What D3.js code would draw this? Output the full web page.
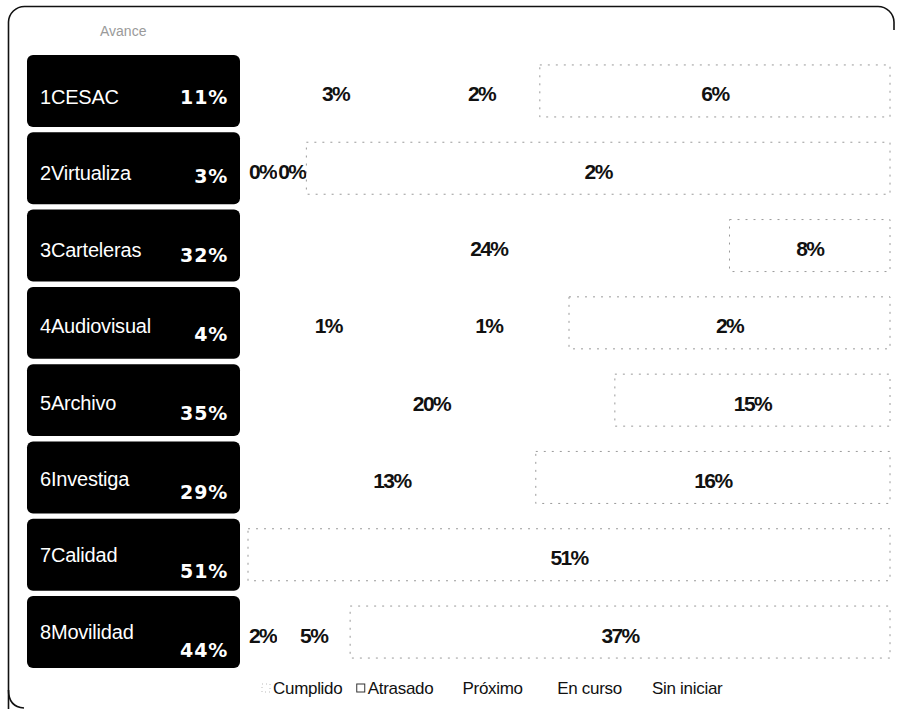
<!DOCTYPE html>
<html>
<head>
<meta charset="utf-8">
<script src="https://cdn.jsdelivr.net/npm/d3@7"></script>
<style>
  html, body { margin: 0; padding: 0; background: #fff; }
</style>
</head>
<body>
<script>
  const WIDTH = 899
  const HEIGHT = 709

  // filas del tablero
  const categories = ['1CESAC', '2Virtualiza', '3Carteleras', '4Audiovisual', '5Archivo', '6Investiga', '7Calidad', '8Movilidad']
  const series = ['Cumplido', 'Atrasado', 'Próximo', 'En curso', 'Sin iniciar']

  // valores por estado (% de avance)
  const cumplido = [3, 0.12, 24, 1, 20, 13, 0, 2]
  const atrasado = [2, 0.12, 0, 1, 0, 0, 0, 5]
  const proximo = [0, 0, 0, 0, 0, 0, 0, 0]
  const enCurso = [6, 2.4, 8, 2, 15, 16, 51, 37]
  const sinIniciar = [0, 0, 0, 0, 0, 0, 0, 0]

  const seriesValues = [cumplido, atrasado, proximo, enCurso, sinIniciar]
  const table = categories.map((c, i) => {
    const row = { name: c }
    series.forEach((s, j) => { row[s] = seriesValues[j][i] })
    row.total = d3.sum(seriesValues, v => v[i])
    return row
  })

  const svg = d3.select('body').append('svg')
    .attr('width', WIDTH)
    .attr('height', HEIGHT)

  // marco redondeado
  svg.append('path')
    .attr('d', 'M8.5,709 L8.5,22 A16,16 0 0 1 24.5,6.5 L878,6.5 A16,16 0 0 1 894,22 L894,30')
    .attr('fill', 'none')
    .attr('stroke', '#111')
    .attr('stroke-width', 1.6)
  svg.append('path')
    .attr('d', 'M8.5,690 Q8.5,707 24,708')
    .attr('fill', 'none')
    .attr('stroke', '#111')
    .attr('stroke-width', 1.6)

  // título (casi ilegible en el original)
  svg.append('text')
    .attr('x', 100).attr('y', 36)
    .attr('font-family', 'Liberation Sans, Arial, sans-serif')
    .attr('font-size', 14)
    .attr('fill', '#9a9a9a')
    .text('Avance')

  const y = d3.scaleBand()
    .domain(categories)
    .range([55, 668])
    .paddingInner(0.07)

  const x = d3.scaleLinear()
    .domain([0, 1])
    .range([248, 890])

  const BAR_H = 52

  // cajas negras de la izquierda
  const boxes = svg.selectAll('g.box')
    .data(table)
    .enter()
    .append('g')
    .attr('class', 'box')

  boxes.append('rect')
    .attr('x', 27)
    .attr('y', d => y(d.name))
    .attr('width', 213)
    .attr('height', y.bandwidth())
    .attr('rx', 6)
    .attr('fill', '#000')

  boxes.append('text')
    .attr('x', 40)
    .attr('y', (d, i) => y(d.name) + y.bandwidth() / 2 + 6 - i * 0.9)
    .attr('dominant-baseline', 'central')
    .attr('font-family', 'Liberation Sans, Arial, sans-serif')
    .attr('font-size', 20)
    .attr('letter-spacing', -0.2)
    .attr('fill', '#fff')
    .text(d => d.name)

  boxes.append('text')
    .attr('x', 228)
    .attr('y', (d, i) => y(d.name) + y.bandwidth() / 2 + 6 + i * 1.7)
    .attr('dominant-baseline', 'central')
    .attr('text-anchor', 'end')
    .attr('font-family', 'DejaVu Sans, Verdana, sans-serif')
    .attr('font-weight', 'bold')
    .attr('font-size', 19)
    .attr('letter-spacing', 0.8)
    .attr('fill', '#fff')
    .text(d => Math.round(d.total) + '%')

  // barras apiladas al 100% de cada fila
  const stacked = d3.stack()
    .keys(series)
    .offset(d3.stackOffsetExpand)(table)

  const layers = svg.selectAll('g.layer')
    .data(stacked)
    .enter()
    .append('g')
    .attr('class', 'layer')

  layers.selectAll('rect')
    .data(d => d.map(p => ({ key: d.key, p })).filter(o => o.p.data[o.key] > 0))
    .enter()
    .append('rect')
    .attr('x', o => x(o.p[0]))
    .attr('y', o => y(o.p.data.name) + (y.bandwidth() - BAR_H) / 2)
    .attr('width', o => x(o.p[1]) - x(o.p[0]))
    .attr('height', BAR_H)
    .attr('fill', '#fff')
    .attr('stroke', o => o.key === 'En curso' ? '#9a9a9a' : 'none')
    .attr('stroke-width', 1)
    .attr('stroke-dasharray', '2,6')

  layers.selectAll('text')
    .data(d => d.map(p => ({ key: d.key, p })).filter(o => o.p.data[o.key] > 0))
    .enter()
    .append('text')
    .attr('x', o => (x(o.p[0]) + x(o.p[1])) / 2)
    .attr('y', o => y(o.p.data.name) + y.bandwidth() / 2 + 3)
    .attr('dominant-baseline', 'central')
    .attr('text-anchor', 'middle')
    .attr('font-family', 'Liberation Sans, Arial, sans-serif')
    .attr('font-weight', 'bold')
    .attr('font-size', 21)
    .attr('letter-spacing', -1.6)
    .attr('fill', '#111')
    .text(o => Math.round(o.p.data[o.key]) + '%')

  // leyenda
  const lx = d3.scalePoint()
    .domain(series)
    .range([262, 641])

  const legend = svg.selectAll('g.legend')
    .data(series)
    .enter()
    .append('g')
    .attr('class', 'legend')
    .attr('transform', d => `translate(${lx(d)},688)`)

  legend.append('rect')
    .attr('x', 0).attr('y', -4)
    .attr('width', 8).attr('height', 8)
    .attr('fill', '#fff')
    .attr('stroke', d => d === 'Atrasado' ? '#333' : (d === 'Cumplido' ? '#bbb' : 'none'))
    .attr('stroke-dasharray', d => d === 'Cumplido' ? '1,3' : null)

  legend.append('text')
    .attr('x', 11)
    .attr('dominant-baseline', 'central')
    .attr('font-family', 'Liberation Sans, Arial, sans-serif')
    .attr('font-size', 17)
    .attr('letter-spacing', -0.3)
    .attr('fill', '#111')
    .text(d => d)
</script>
</body>
</html>
